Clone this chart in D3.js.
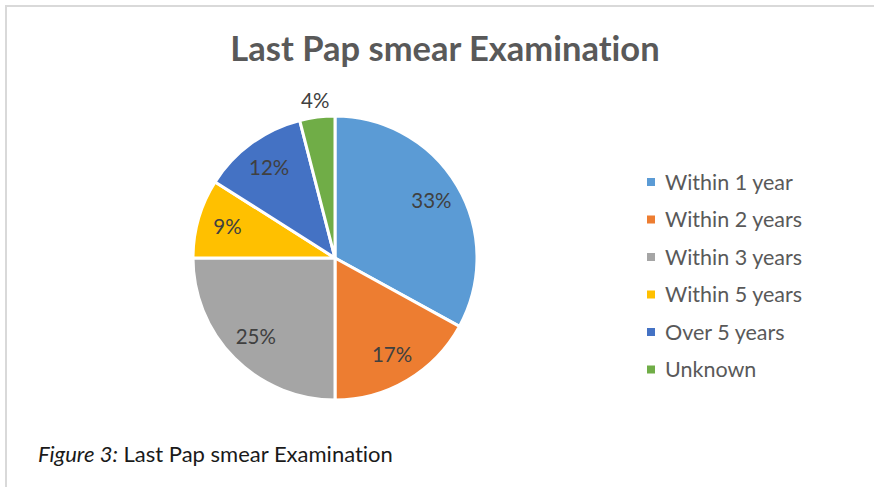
<!DOCTYPE html>
<html><head><meta charset="utf-8">
<script src="https://cdn.jsdelivr.net/npm/d3@7"></script>
<style>
html,body{margin:0;padding:0;background:#fff;}
svg{display:block;}
text{font-variant-ligatures:none;font-feature-settings:"liga" 0;}
</style></head>
<body>
<svg id="chart" width="874" height="487"></svg>
<script>
const categories = ["Within 1 year","Within 2 years","Within 3 years","Within 5 years","Over 5 years","Unknown"];
const values = [33, 17, 25, 9, 12, 4];
const labels = ["33%","17%","25%","9%","12%","4%"];
const colors = ["#5B9BD5","#ED7D31","#A5A5A5","#FFC000","#4472C4","#70AD47"];
const titleText = "Last Pap smear Examination";

const svg = d3.select("#chart");
const FONT = "Lato, 'Open Sans', sans-serif";

// frame
svg.append("path").attr("d","M6,487 L6,6 L874,6").attr("fill","none").attr("stroke","#d9d9d9").attr("stroke-width",2);

// title
svg.append("text").attr("x",445).attr("y",61).attr("text-anchor","middle")
  .attr("font-family",FONT).attr("font-weight","bold").attr("font-size",34.5)
  .attr("fill","#595959").text(titleText);

const cx = 335, cy = 258, R = 142;
const g = svg.append("g").attr("transform",`translate(${cx},${cy})`);
const pie = d3.pie().sort(null).value(d=>d)(values);
const arc = d3.arc().innerRadius(0).outerRadius(R);
g.selectAll("path.slice").data(pie).join("path").attr("class","slice")
  .attr("d",arc).attr("fill",(d,i)=>colors[i]).attr("stroke","#fff").attr("stroke-width",3).attr("stroke-linejoin","round");

const inArc = d3.arc().innerRadius(112).outerRadius(112);
const outArc = d3.arc().innerRadius(158).outerRadius(158);
g.selectAll("text.lbl").data(pie).join("text").attr("class","lbl")
  .attr("transform",(d,i)=>`translate(${(values[i] < 5 ? outArc : inArc).centroid(d)})`)
  .attr("text-anchor","middle").attr("dy","0.35em")
  .attr("font-family",FONT).attr("font-size",20.5).attr("fill","#404040")
  .text((d,i)=>labels[i]);

// legend
const lg = svg.append("g");
const rows = lg.selectAll("g").data(categories).join("g")
  .attr("transform",(d,i)=>`translate(647,${182 + i*37.5})`);
rows.append("rect").attr("x",0).attr("y",-4).attr("width",8).attr("height",8).attr("fill",(d,i)=>colors[i]);
rows.append("text").attr("x",18).attr("y",0).attr("dy","0.35em")
  .attr("font-family",FONT).attr("font-size",21.5).attr("fill","#595959").text(d=>d);

// caption
const cap = svg.append("text").attr("x",38).attr("y",462).attr("font-family",FONT).attr("font-size",22).attr("fill","#1a1a1a");
cap.append("tspan").attr("font-style","italic").text("Figure 3:");
cap.append("tspan").text(" Last Pap smear Examination");
</script>
</body></html>
